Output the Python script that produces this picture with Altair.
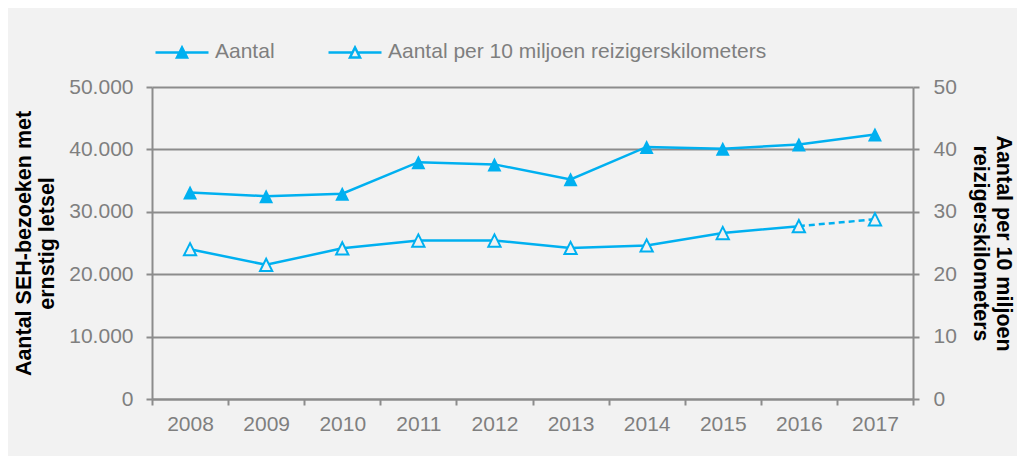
import altair as alt
import pandas as pd

# ---- data ----
years = ["2008", "2009", "2010", "2011", "2012", "2013", "2014", "2015", "2016", "2017"]
aantal = [33100, 32500, 32900, 37950, 37600, 35200, 40400, 40100, 40800, 42400]
per_10m = [24.0, 21.5, 24.15, 25.4, 25.4, 24.2, 24.6, 26.6, 27.7, 28.8]
series = ["Aantal", "Aantal per 10 miljoen reizigerskilometers"]
left_ticks = [0, 10000, 20000, 30000, 40000, 50000]
right_ticks = [0, 10, 20, 30, 40, 50]
left_title = ["Aantal SEH-bezoeken met", "ernstig letsel"]
right_title = ["Aantal per 10 miljoen", "reizigerskilometers"]
dash_from = "2016"

# ---- styles ----
BLUE = "#00b0f0"
BG = "#f2f2f2"
GRID = "#8c8c8c"
TXT = "#7f7f7f"
FONT = "Liberation Sans"
TRI = "M0,-1L1,1L-1,1Z"
LEG_FILLED = "M-1,0H1M-0.19,0.19L0,-0.19L0.19,0.19Z"
LEG_OPEN = "M-1,0H-0.1M0.1,0H1M-0.19,0.19L0,-0.19L0.19,0.19Z"

df = pd.DataFrame({"jaar": years, "aantal": aantal, "per10": per_10m})
leg_df = pd.DataFrame({"serie": series})

x_enc = alt.X(
    "jaar:O",
    scale=alt.Scale(type="band", paddingInner=0, paddingOuter=0),
    bandPosition=0.5,
    axis=alt.Axis(title=None, labelAngle=0, tickBand="extent", labelPadding=8),
)

yA = alt.Y(
    "aantal:Q",
    scale=alt.Scale(domain=[0, 50000], nice=False),
    axis=alt.Axis(
        orient="left", values=left_ticks, title=left_title,
        labelExpr="replace(format(datum.value, ','), ',', '.')",
        grid=True, labelPadding=13, titlePadding=10,
    ),
)
yB = alt.Y(
    "per10:Q",
    scale=alt.Scale(domain=[0, 50], nice=False),
    axis=alt.Axis(orient="right", values=right_ticks, title=right_title,
                  grid=False, labelPadding=14, titlePadding=12),
)

base = alt.Chart(df)

lineA = base.mark_line(color=BLUE, strokeWidth=2.5).encode(x=x_enc, y=yA)
ptsA = base.mark_point(shape=TRI, size=196, filled=True, color=BLUE, opacity=1).encode(x=x_enc, y=yA)

leg = alt.Legend(
    title=None, orient="none", legendX=2, legendY=-63, direction="horizontal",
    symbolSize=2809, symbolStrokeWidth=2.5, symbolStrokeColor=BLUE, symbolOpacity=1,
    labelFont=FONT, labelFontSize=21, labelColor=TXT, labelOffset=5,
    columnPadding=48, padding=0, labelLimit=800,
)
legend_layer = alt.Chart(leg_df).mark_point(strokeWidth=2.5, opacity=1).encode(
    shape=alt.Shape("serie:N", scale=alt.Scale(domain=series, range=[LEG_FILLED, LEG_OPEN]), legend=leg),
    fill=alt.Fill("serie:N", scale=alt.Scale(domain=series, range=[BLUE, BG]), legend=leg),
    stroke=alt.Stroke("serie:N", scale=alt.Scale(domain=series, range=[BLUE, BLUE]), legend=leg),
).transform_filter("false")

layerA = alt.layer(lineA, ptsA, legend_layer)

lineB = base.transform_filter(f"datum.jaar <= '{dash_from}'").mark_line(
    color=BLUE, strokeWidth=2.5).encode(x=x_enc, y=yB)
lineB_dash = base.transform_filter(f"datum.jaar >= '{dash_from}'").mark_line(
    color=BLUE, strokeWidth=2.5, strokeDash=[6, 4]).encode(x=x_enc, y=yB)
ptsB = base.mark_point(shape=TRI, size=150, fill=BG, stroke=BLUE, strokeWidth=2,
                       opacity=1).encode(x=x_enc, y=yB)

layerB = alt.layer(lineB, lineB_dash, ptsB)

chart = (
    alt.layer(layerA, layerB)
    .resolve_scale(y="independent")
    .properties(
        width=761, height=312,
        autosize=alt.AutoSizeParams(type="none"),
        padding={"left": 144, "top": 79, "right": 104, "bottom": 57},
    )
    .configure(background=BG, font=FONT)
    .configure_view(stroke=None)
    .configure_axis(
        labelFont=FONT, labelFontSize=21, labelColor=TXT,
        titleFont=FONT, titleFontSize=21.5, titleFontWeight="bold", titleColor="black",
        titleLineHeight=23,
        domainColor=GRID, domainWidth=2, tickColor=GRID, tickWidth=2, tickSize=6,
        gridColor=GRID, gridWidth=2,
    )
)

chart.save("out.html", embed_options={"renderer": "svg", "actions": False})
